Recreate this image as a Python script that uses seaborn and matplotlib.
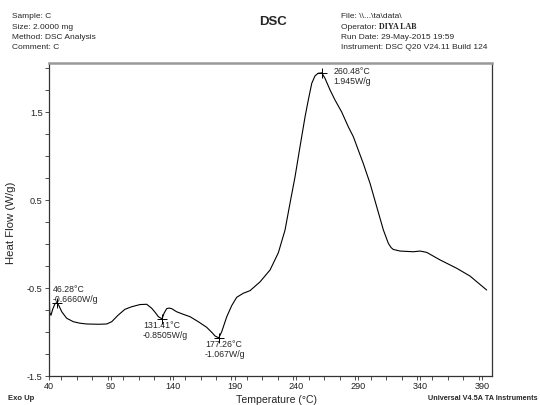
import numpy as np
import pandas as pd
import matplotlib
matplotlib.use("Agg")
import matplotlib.pyplot as plt
import seaborn as sns
from matplotlib.ticker import MultipleLocator, FixedLocator

# ---- data ----
temperature = [40.0, 40.2, 40.6, 41.6, 43.0, 44.8, 46.28, 48.0, 50.3, 54.3, 59.7, 65.0,
               70.5, 80.0, 86.6, 90.7, 96.0, 101.4, 106.8, 113.6, 119.0, 123.0, 126.0,
               128.4, 131.41, 133.0, 135.1, 137.0, 139.2, 143.2, 148.6, 154.0, 160.7,
               167.5, 172.0, 174.2, 177.26, 179.6, 183.7, 187.7, 191.7, 197.0, 202.5,
               210.6, 218.7, 225.4, 230.8, 234.8, 238.9, 242.9, 247.0, 249.6, 252.4,
               255.0, 257.5, 260.48, 263.1, 267.2, 271.2, 276.6, 282.0, 286.0, 290.0,
               294.0, 299.5, 304.9, 310.3, 314.3, 316.5, 318.3, 323.8, 334.5, 339.9,
               345.3, 356.0, 369.6, 380.3, 393.8]
heat_flow = [-0.30, -0.55, -0.78, -0.81, -0.74, -0.68, -0.666, -0.70, -0.77, -0.844,
             -0.883, -0.90, -0.909, -0.912, -0.909, -0.883, -0.807, -0.742, -0.713,
             -0.688, -0.685, -0.73, -0.78, -0.826, -0.8505, -0.787, -0.735, -0.728,
             -0.735, -0.77, -0.799, -0.826, -0.883, -0.947, -1.01, -1.045, -1.067,
             -0.997, -0.826, -0.70, -0.606, -0.56, -0.53, -0.43, -0.295, -0.099, 0.159,
             0.462, 0.765, 1.106, 1.447, 1.636, 1.826, 1.91, 1.94, 1.945, 1.883, 1.75,
             1.636, 1.50, 1.33, 1.22, 1.068, 0.917, 0.69, 0.424, 0.159, 0.008, -0.04,
             -0.062, -0.08, -0.088, -0.08, -0.095, -0.18, -0.276, -0.364, -0.523]

peak_temps = [46.28, 131.41, 177.26, 260.48]
peak_flows = [-0.6660, -0.8505, -1.067, 1.945]
peak_labels = ["46.28°C\n-0.6660W/g", "131.41°C\n-0.8505W/g",
               "177.26°C\n-1.067W/g", "260.48°C\n1.945W/g"]

x_ticks = [40, 90, 140, 190, 240, 290, 340, 390]
y_ticks = [-1.5, -0.5, 0.5, 1.5]

header_left = ["Sample: C", "Size: 2.0000 mg", "Method: DSC Analysis", "Comment: C"]
header_right = ["File: \\\\...\\ta\\data\\", "Operator: ", "Run Date: 29-May-2015 19:59",
                "Instrument: DSC Q20 V24.11 Build 124"]
operator_name = "DIYA LAB"

# ---- plotting ----
sns.set_style("ticks")
plt.rcParams["font.family"] = ["Liberation Sans", "DejaVu Sans"]

W, H = 540, 405
fig = plt.figure(figsize=(5.4, 4.05), dpi=100)
L, R, T, B = 49, 492, 63, 376
ax = fig.add_axes([L / W, 1 - B / H, (R - L) / W, (B - T) / H])

df = pd.DataFrame({"Temperature": temperature, "HeatFlow": heat_flow})
sns.lineplot(data=df, x="Temperature", y="HeatFlow", ax=ax, color="black",
             linewidth=0.8, sort=False, estimator=None)

pk = pd.DataFrame({"t": peak_temps, "f": peak_flows})
sns.scatterplot(data=pk, x="t", y="f", ax=ax, marker="+", color="black", s=45,
                linewidth=0.7, zorder=5)

offsets = [(-4, 18), (-19, -2), (-14, -2), (12, 6)]
for t, f, lab, (dx, dy) in zip(peak_temps, peak_flows, peak_labels, offsets):
    ax.annotate(lab, (t, f), xytext=(dx, dy), textcoords="offset pixels",
                fontsize=6.3, va="top", ha="left", linespacing=1.15)

ax.set_xlim(40, 398.1)
ax.set_ylim(-1.5, 2.057)
ax.xaxis.set_major_locator(FixedLocator(x_ticks))
ax.xaxis.set_minor_locator(MultipleLocator(12.5))
ax.yaxis.set_major_locator(FixedLocator(y_ticks))
ax.yaxis.set_minor_locator(MultipleLocator(0.25))
ax.set_xticklabels([str(v) for v in x_ticks])
ax.set_yticklabels([str(v) for v in y_ticks])
ax.tick_params(axis="both", which="both", direction="out", length=3, width=0.6,
               colors="#333333", labelsize=6.6, labelcolor="#222222", pad=1.5)
ax.set_xlabel("")
ax.set_ylabel("")
for s in ["left", "bottom", "right"]:
    ax.spines[s].set_visible(True)
    ax.spines[s].set_color("#333333")
    ax.spines[s].set_linewidth(0.9)
ax.spines["top"].set_visible(True)
ax.spines["top"].set_color("#999999")
ax.spines["top"].set_linewidth(1.8)


def fx(x):
    return x / W


def fy(y):
    return 1 - y / H


fig.text(fx(276), fy(400), "Temperature (°C)", fontsize=7.6, ha="center", va="center")
fig.text(fx(11), fy(223), "Heat Flow (W/g)", fontsize=8.2, ha="center", va="center",
         rotation=90)
fig.text(fx(273), fy(22), "DSC", fontsize=9.5, ha="center", va="center", weight="bold")
fig.text(fx(8), fy(398), "Exo Up", fontsize=5.5, ha="left", va="center", weight="bold")
fig.text(fx(538), fy(398), "Universal V4.5A TA Instruments", fontsize=5.2, ha="right",
         va="center", weight="bold")

for i, s in enumerate(header_left):
    fig.text(fx(12), fy(17 + i * 10.2), s, fontsize=6, ha="left", va="center")
for i, s in enumerate(header_right):
    t = fig.text(fx(341), fy(17 + i * 10.2), s, fontsize=6, ha="left", va="center")
    if i == 1:
        fig.text(fx(379), fy(17 + i * 10.2), operator_name, fontsize=5.8, ha="left",
                 va="center", family="Liberation Serif", weight="bold")

fig.savefig("out.png", dpi=100)
